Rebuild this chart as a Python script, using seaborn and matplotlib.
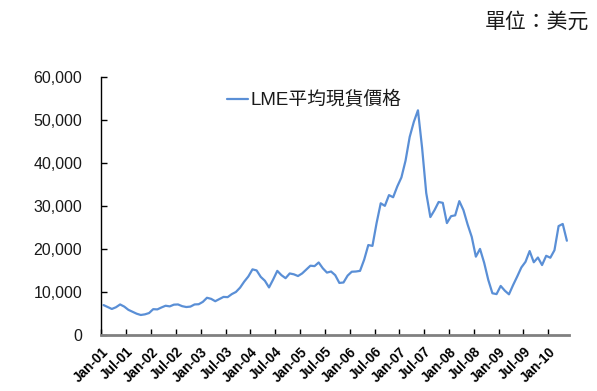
import matplotlib
matplotlib.use("Agg")
import matplotlib.pyplot as plt
import seaborn as sns
import pandas as pd
import numpy as np

# Monthly average LME cash price, Jan 2001 - May 2010 (USD)
months = pd.date_range("2001-01-01", periods=113, freq="MS")
prices = [
    6950, 6500, 6050, 6450, 7100, 6600, 5850, 5400, 4950, 4650, 4800, 5100,
    6000, 5950, 6400, 6800, 6650, 7050, 7100, 6700, 6500, 6600, 7100, 7150,
    7700, 8650, 8400, 7850, 8350, 8850, 8800, 9500, 10000, 11000, 12400, 13600,
    15250, 15000, 13500, 12600, 11050, 12900, 14900, 13900, 13200, 14300, 14100, 13700,
    14300, 15200, 16100, 16000, 16850, 15500, 14500, 14750, 13900, 12100, 12200, 13800,
    14700, 14750, 14900, 17500, 20900, 20700, 26000, 30600, 30000, 32500, 32000, 34500,
    36600, 40500, 46000, 49500, 52200, 43500, 33000, 27400, 29000, 30900, 30700, 26000,
    27600, 27800, 31100, 29000, 25700, 22800, 18200, 20000, 16800, 12800, 9700, 9500,
    11400, 10300, 9450, 11600, 13600, 15700, 17000, 19500, 16900, 18000, 16250, 18400,
    17950, 19700, 25300, 25800, 21900,
]
series_name = "LME平均現貨價格"
unit_label = "單位：美元"
tick_labels = [d.strftime("%b-%y") for d in months[::6]]
y_ticks = [0, 10000, 20000, 30000, 40000, 50000, 60000]

sns.set_theme(style="white")
plt.rcParams["font.family"] = ["Liberation Sans", "Noto Sans CJK TC"]

# each month sits in the middle of its category slot
df = pd.DataFrame({"pos": np.arange(len(prices)) + 0.5, "price": prices,
                   "series": series_name})

fig = plt.figure(figsize=(5.97, 3.91), dpi=100)
ax = fig.add_axes([0.170, 0.1432, 0.783, 0.6606])

sns.lineplot(data=df, x="pos", y="price", hue="series", palette=["#5A8FD6"],
             linewidth=1.6, ax=ax)
for ln in ax.get_lines():
    ln.set_solid_joinstyle("round")
    ln.set_solid_capstyle("round")

ax.set_xlim(0, len(prices))
ax.set_ylim(0, 60000)
ax.set_xticks(np.arange(0, len(prices), 6))
ax.set_xticklabels(tick_labels, rotation=45, ha="right", rotation_mode="anchor",
                   fontsize=9.8, fontweight="bold", color="#000000")
ax.set_yticks(y_ticks)
ax.set_yticklabels([f"{v:,}" for v in y_ticks], fontsize=11.5, color="#1a1a1a")
ax.set_xlabel("")
ax.set_ylabel("")

ax.tick_params(axis="x", direction="in", length=4, width=1, color="#000000",
               pad=7, bottom=True)
ax.tick_params(axis="y", direction="in", length=4, width=1, color="#000000",
               pad=14, left=True)

for side in ("top", "right"):
    ax.spines[side].set_visible(False)
ax.spines["left"].set_color("#000000")
ax.spines["left"].set_linewidth(1.0)
ax.spines["bottom"].set_color("#808080")
ax.spines["bottom"].set_linewidth(2.0)

leg = ax.legend(loc="center left", bbox_to_anchor=(0.3797, 0.744),
                bbox_transform=fig.transFigure, frameon=False,
                borderaxespad=0, borderpad=0,
                handlelength=1.15, handletextpad=0.12, fontsize=13.5)
for t in leg.get_texts():
    t.set_color("#1a1a1a")

fig.text(0.986, 0.9445, unit_label, ha="right", va="center", fontsize=15,
         color="#1a1a1a", family=["Noto Sans CJK TC", "Liberation Sans"])

fig.savefig("out.png", dpi=100, facecolor="white")
